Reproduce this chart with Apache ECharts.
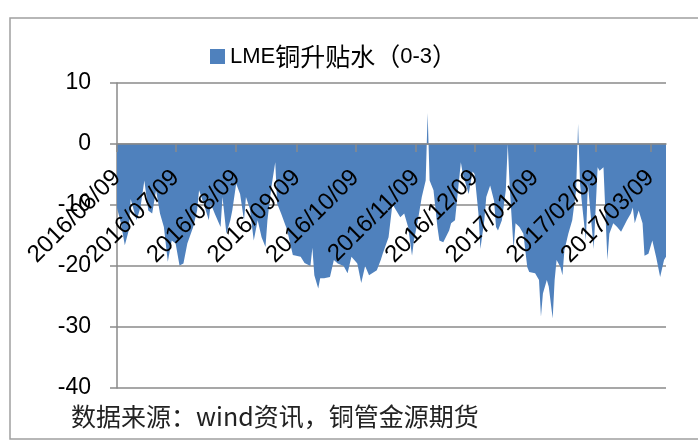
<!DOCTYPE html>
<html>
<head>
<meta charset="utf-8">
<script src="https://cdn.jsdelivr.net/npm/echarts@6/dist/echarts.min.js"></script>
<style>html,body{margin:0;padding:0;background:#fff}#c{width:698px;height:441px}</style>
</head>
<body>
<div id="c"></div>
<script>
// Calendar range of the date axis
var startDate = '2016/06/09';
var dayCount = 282; // 2016/06/09 .. 2017/03/17
// Read points: day offset from start date, and value
var dayOffsets = [0,2,4,6,7,10,12,14,16,18,20,22,24,26,28,30,32,34,36,39,41,42,45,47,48,50,53,54,56,58,59,61,63,65,66,68,70,72,74,76,77,79,81,82,84,87,90,94,96,99,100,101,103,104,106,109,111,113,116,118,120,123,125,127,129,133,135,136,139,141,142,145,147,149,151,152,154,156,158,159,160,162,164,165,167,170,171,173,176,177,180,182,183,185,186,188,189,191,193,194,195,197,199,200,201,203,204,206,208,210,211,214,216,217,218,220,221,223,224,225,227,228,229,231,233,235,236,237,238,240,241,243,244,246,247,249,251,252,254,256,258,259,261,263,264,265,267,269,270,272,274,276,278,280,281];
var values = [-10.5,-13,-16.6,-14.2,-9,-12.5,-10.4,-6,-10.9,-11.4,-7.6,-11.4,-13.6,-19.3,-15.8,-16.3,-19.9,-19.6,-16.3,-13.6,-10.9,-7.6,-10.4,-12.5,-9.8,-11.4,-13.6,-8.7,-14.7,-12.5,-10.9,-6.5,-8.2,-12.5,-8.7,-10.6,-15.8,-12.5,-15.3,-16.9,-12.5,-7.1,-3,-9.8,-11.4,-14,-18.2,-18.5,-19.5,-20,-17,-21.5,-23.7,-22,-22,-21.8,-19,-19.6,-20,-21.2,-18.5,-19.6,-22.8,-20,-21.5,-20.7,-19,-18,-15.3,-9.8,-10.4,-12,-11.4,-13.6,-18.3,-15.8,-12.5,-8.7,-6,5.1,-6,-7.6,-13.6,-15.8,-16.1,-14.2,-13,-12.5,-3,-4.9,-8.2,-4.5,-4.9,-11.4,-17.2,-12.5,-8.7,-6.8,-9.3,-13.6,-14.2,-12.5,-7.6,0,-7,-17.2,-13,-13.6,-14.7,-20.2,-21,-21.2,-22.3,-28.3,-24.5,-22.3,-23.4,-28.6,-22.3,-19,-20.2,-21.5,-17.4,-14.7,-12.5,-7.6,3.3,-6.5,-9.8,-15.8,-6.5,-13.6,-17.2,-3.8,-4.4,-3.8,-19,-14.7,-13,-13.6,-14.4,-14.2,-12.5,-11.4,-10.4,-13,-10.9,-13,-18.3,-18,-15.8,-18.6,-21.8,-19,-18.5];
var yTicks = {min: -40, max: 10, interval: 10};
var seriesName = 'LME铜升贴水（0-3）';
var sourceText = '数据来源：wind资讯，铜管金源期货';

function pad(n){return (n<10?'0':'')+n;}
var categories = [];
(function(){
  var p = startDate.split('/');
  var d0 = new Date(Date.UTC(+p[0], +p[1]-1, +p[2]));
  for (var i=0;i<dayCount;i++){
    var d = new Date(d0.getTime() + i*86400000);
    categories.push(d.getUTCFullYear()+'/'+pad(d.getUTCMonth()+1)+'/'+pad(d.getUTCDate()));
  }
})();
var seriesData = categories.map(function(){return null;});
dayOffsets.forEach(function(o,i){ seriesData[o] = values[i]; });

function isMonthTick(index, value){ return value.slice(-3) === '/09'; }

var gridTop = 83, gridBottom = 53, H = 441;
var plotH = H - gridTop - gridBottom;
var zeroY = gridTop + plotH * (yTicks.max - 0) / (yTicks.max - yTicks.min);
var xOffset = -((H - gridBottom) - zeroY);

var chart = echarts.init(document.getElementById('c'), null, {renderer:'canvas'});
chart.setOption({
  animation: false,
  backgroundColor: '#fff',
  grid: {left: 117, right: 32, top: gridTop, bottom: gridBottom, containLabel: false, outerBoundsMode: 'none'},
  legend: {
    left: 205, top: 39,
    icon: 'rect', itemWidth: 15, itemHeight: 15, itemGap: 7,
    data: [seriesName],
    formatter: function(){ return '{a|LME}{b|铜升贴水（}{a|0-3}{b|）}'; },
    textStyle: {
      color: '#000',
      rich: {
        a: {fontFamily: 'Liberation Sans', fontSize: 22, color: '#000'},
        b: {fontFamily: 'Noto Sans CJK SC', fontSize: 25, color: '#000'}
      }
    }
  },
  xAxis: {
    type: 'category',
    data: categories,
    boundaryGap: false,
    z: 5,
    offset: xOffset,
    axisLine: {show: true, onZero: false, lineStyle: {color: '#8a8a8a', width: 1.5}},
    axisTick: {show: true, interval: isMonthTick, length: 8, lineStyle: {color: '#8a8a8a', width: 1.5}},
    axisLabel: {
      interval: isMonthTick, rotate: 45, margin: 30,
      fontFamily: 'Liberation Sans', fontSize: 24, color: '#000'
    },
    splitLine: {show: false}
  },
  yAxis: {
    type: 'value',
    min: yTicks.min, max: yTicks.max, interval: yTicks.interval,
    axisLine: {show: true, lineStyle: {color: '#8a8a8a', width: 1.5}},
    axisTick: {show: true, length: 7, lineStyle: {color: '#8a8a8a', width: 1.5}},
    axisLabel: {margin: 26, fontFamily: 'Liberation Sans', fontSize: 23, color: '#000'},
    splitLine: {show: true, lineStyle: {color: '#8a8a8a', width: 1.5}}
  },
  series: [{
    name: seriesName,
    type: 'line',
    data: seriesData,
    connectNulls: true,
    symbol: 'none',
    smooth: false,
    lineStyle: {width: 0, color: '#4f81bd'},
    itemStyle: {color: '#4f81bd'},
    areaStyle: {color: '#4f81bd', opacity: 1, origin: 0}
  }],
  graphic: [
    {type: 'rect', z: 100, silent: true, shape: {x: 10, y: 18, width: 700, height: 421},
     style: {fill: null, stroke: '#a0a0a0', lineWidth: 1.5}},
    {type: 'text', left: 71, top: 404, z: 100, silent: true,
     style: {text: sourceText, fontFamily: 'Noto Sans CJK SC', fontSize: 25, fill: '#222'}}
  ]
});
</script>
</body>
</html>
